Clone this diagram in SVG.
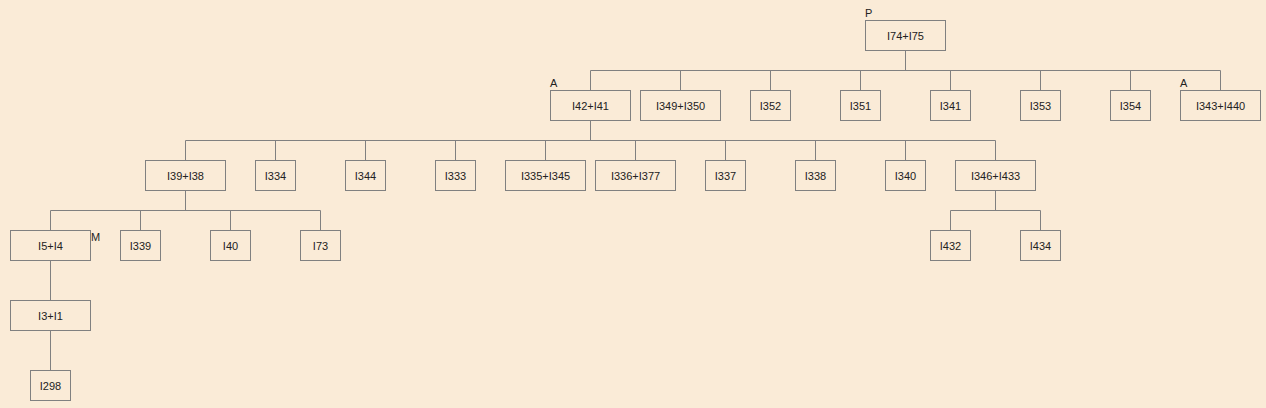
<svg xmlns="http://www.w3.org/2000/svg" width="1266" height="408" viewBox="0 0 1266 408">
<style>
.n rect{fill:none;stroke:#808080;stroke-width:1}
.n text{font-family:"Liberation Sans",Arial,sans-serif;font-size:11px;fill:#222;text-anchor:middle;dominant-baseline:central}
.lab{font-family:"Liberation Sans",Arial,sans-serif;font-size:11px;fill:#222}
.c path{fill:none;stroke:#808080;stroke-width:1}
</style>
<rect x="0" y="0" width="1266" height="408" fill="#FAEBD7"/>
<g class="c" id="connectors">
<path d="M905.5 50.5V70.5M590.5 70.5H1220.5M590.5 70.5V90.5M680.5 70.5V90.5M770.5 70.5V90.5M860.5 70.5V90.5M950.5 70.5V90.5M1040.5 70.5V90.5M1130.5 70.5V90.5M1220.5 70.5V90.5"/>
<path d="M590.5 120.5V140.5M185.5 140.5H995.5M185.5 140.5V160.5M275.5 140.5V160.5M365.5 140.5V160.5M455.5 140.5V160.5M545.5 140.5V160.5M635.5 140.5V160.5M725.5 140.5V160.5M815.5 140.5V160.5M905.5 140.5V160.5M995.5 140.5V160.5"/>
<path d="M185.5 190.5V210.5M50.5 210.5H320.5M50.5 210.5V230.5M140.5 210.5V230.5M230.5 210.5V230.5M320.5 210.5V230.5"/>
<path d="M995.5 190.5V210.5M950.5 210.5H1040.5M950.5 210.5V230.5M1040.5 210.5V230.5"/>
<path d="M50.5 260.5V300.5M50.5 330.5V370.5"/>
</g>
<g class="n" id="n_I74_I75"><rect x="865.5" y="20.5" width="80" height="30"/><text x="905.5" y="35.5">I74+I75</text></g>
<text class="lab" x="865" y="17">P</text>
<g class="n" id="n_I42_I41"><rect x="550.5" y="90.5" width="80" height="30"/><text x="590.5" y="105.5">I42+I41</text></g>
<text class="lab" x="550" y="87">A</text>
<g class="n" id="n_I349_I350"><rect x="640.5" y="90.5" width="80" height="30"/><text x="680.5" y="105.5">I349+I350</text></g>
<g class="n" id="n_I352"><rect x="750.5" y="90.5" width="40" height="30"/><text x="770.5" y="105.5">I352</text></g>
<g class="n" id="n_I351"><rect x="840.5" y="90.5" width="40" height="30"/><text x="860.5" y="105.5">I351</text></g>
<g class="n" id="n_I341"><rect x="930.5" y="90.5" width="40" height="30"/><text x="950.5" y="105.5">I341</text></g>
<g class="n" id="n_I353"><rect x="1020.5" y="90.5" width="40" height="30"/><text x="1040.5" y="105.5">I353</text></g>
<g class="n" id="n_I354"><rect x="1110.5" y="90.5" width="40" height="30"/><text x="1130.5" y="105.5">I354</text></g>
<g class="n" id="n_I343_I440"><rect x="1180.5" y="90.5" width="80" height="30"/><text x="1220.5" y="105.5">I343+I440</text></g>
<text class="lab" x="1180" y="87">A</text>
<g class="n" id="n_I39_I38"><rect x="145.5" y="160.5" width="80" height="30"/><text x="185.5" y="175.5">I39+I38</text></g>
<g class="n" id="n_I334"><rect x="255.5" y="160.5" width="40" height="30"/><text x="275.5" y="175.5">I334</text></g>
<g class="n" id="n_I344"><rect x="345.5" y="160.5" width="40" height="30"/><text x="365.5" y="175.5">I344</text></g>
<g class="n" id="n_I333"><rect x="435.5" y="160.5" width="40" height="30"/><text x="455.5" y="175.5">I333</text></g>
<g class="n" id="n_I335_I345"><rect x="505.5" y="160.5" width="80" height="30"/><text x="545.5" y="175.5">I335+I345</text></g>
<g class="n" id="n_I336_I377"><rect x="595.5" y="160.5" width="80" height="30"/><text x="635.5" y="175.5">I336+I377</text></g>
<g class="n" id="n_I337"><rect x="705.5" y="160.5" width="40" height="30"/><text x="725.5" y="175.5">I337</text></g>
<g class="n" id="n_I338"><rect x="795.5" y="160.5" width="40" height="30"/><text x="815.5" y="175.5">I338</text></g>
<g class="n" id="n_I340"><rect x="885.5" y="160.5" width="40" height="30"/><text x="905.5" y="175.5">I340</text></g>
<g class="n" id="n_I346_I433"><rect x="955.5" y="160.5" width="80" height="30"/><text x="995.5" y="175.5">I346+I433</text></g>
<g class="n" id="n_I5_I4"><rect x="10.5" y="230.5" width="80" height="30"/><text x="50.5" y="245.5">I5+I4</text></g>
<text class="lab" x="91" y="241">M</text>
<g class="n" id="n_I339"><rect x="120.5" y="230.5" width="40" height="30"/><text x="140.5" y="245.5">I339</text></g>
<g class="n" id="n_I40"><rect x="210.5" y="230.5" width="40" height="30"/><text x="230.5" y="245.5">I40</text></g>
<g class="n" id="n_I73"><rect x="300.5" y="230.5" width="40" height="30"/><text x="320.5" y="245.5">I73</text></g>
<g class="n" id="n_I432"><rect x="930.5" y="230.5" width="40" height="30"/><text x="950.5" y="245.5">I432</text></g>
<g class="n" id="n_I434"><rect x="1020.5" y="230.5" width="40" height="30"/><text x="1040.5" y="245.5">I434</text></g>
<g class="n" id="n_I3_I1"><rect x="10.5" y="300.5" width="80" height="30"/><text x="50.5" y="315.5">I3+I1</text></g>
<g class="n" id="n_I298"><rect x="30.5" y="370.5" width="40" height="30"/><text x="50.5" y="385.5">I298</text></g>
</svg>
